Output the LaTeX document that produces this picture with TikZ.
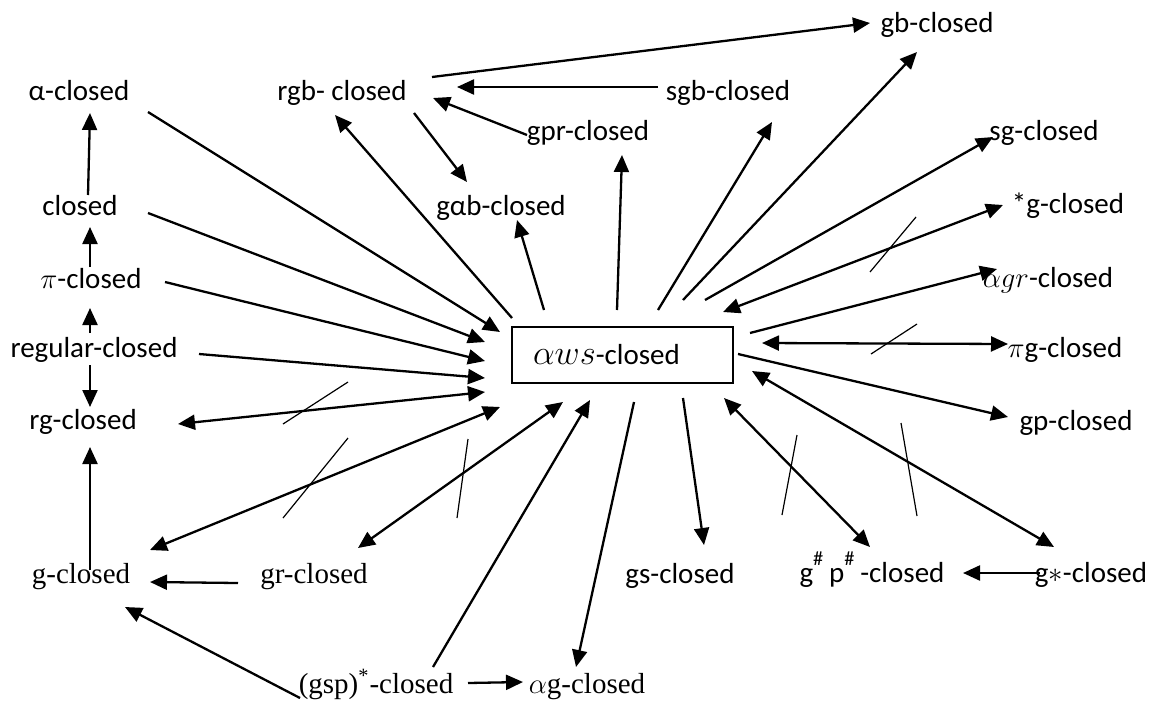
\documentclass[tikz,border=0pt]{standalone}
\usepackage{fontspec}
\setmainfont{Carlito}
\newfontfamily\tms{Liberation Serif}
\usetikzlibrary{arrows.meta}
\begin{document}
\begin{tikzpicture}[x=0.5pt,y=-0.5pt,
 font=\fontsize{14.5}{17}\selectfont,
 lab/.style={anchor=base, inner sep=0pt},
 tlab/.style={lab, font=\fontsize{14.5}{17}\selectfont\tms},
 arr/.style={line width=1.15pt, -{Triangle[length=8.5pt,width=7.5pt]}},
 darr/.style={line width=1.15pt, {Triangle[length=8.5pt,width=7.5pt]}-{Triangle[length=8.5pt,width=7.5pt]}},
 strike/.style={line width=0.6pt}]
\useasboundingbox (0,0) rectangle (1150,702);
% nodes
\node[lab] (alpha) at (79,100) {α-closed};
\node[lab] (rgb) at (342,100) {rgb- closed};
\node[lab] (sgb) at (728,100) {sgb-closed};
\node[lab] (gb) at (937,32) {gb-closed};
\node[lab] (gpr) at (588,140) {gpr-closed};
\node[lab] (sg) at (1044,140) {sg-closed};
\node[lab] (closed) at (80,215) {closed};
\node[lab] (gab) at (501,215) {gαb-closed};
\node[lab] (sgx) at (1068,213) {*g-closed};
\node[lab] (pi) at (91,288) {$\pi$-closed};
\node[lab] (agr) at (1048,287) {$\alpha gr$-closed};
\node[lab] (pig) at (1065,357) {$\pi$g-closed};
\node[lab] (reg) at (94,357) {regular-closed};
\node[lab] (rg) at (83,429) {rg-closed};
\node[lab] (gp) at (1076,430) {gp-closed};
\node[tlab] (g) at (81,583) {g-closed};
\node[tlab] (gr) at (314,583) {gr-closed};
\node[lab] (gs) at (680,583) {gs-closed};
\node[lab] (gpp) at (872,582) {g\raisebox{3pt}{\textsuperscript{\#}}\,p\raisebox{3pt}{\textsuperscript{\#}}\,-closed};
\node[lab] (gst) at (1091,582) {g$\ast$-closed};
\node[tlab] (gsp) at (376,693) {(gsp)\textsuperscript{*}-closed};
\node[tlab] (ag) at (587,693) {$\alpha$g-closed};
\node[draw, line width=0.8pt, minimum width=110.5pt, minimum height=28pt,
      inner xsep=10.5pt, inner ysep=0pt, text width=89.5pt, align=left]
      (aws) at (622.5,355) {\raisebox{-3pt}{{\fontsize{17.5}{20}\selectfont$\alpha ws$}-closed}};
% connector end points
\coordinate (a1) at (148,112);  \coordinate (b1) at (500,332);
\coordinate (a2) at (148,213);  \coordinate (b2) at (485,342);
\coordinate (a3) at (165,282);  \coordinate (b3) at (485,361);
\coordinate (a4) at (199,354);  \coordinate (b4) at (485,378);
\coordinate (a5) at (178,424);  \coordinate (b5) at (485,392);
\coordinate (a6) at (150,550);  \coordinate (b6) at (500,407);
\coordinate (a7) at (88,195);   \coordinate (b7) at (90,113);
\coordinate (a8) at (90,267);   \coordinate (b8) at (90,227);
\coordinate (a9) at (90,333);   \coordinate (b9) at (90,308);
\coordinate (a10) at (90,365);  \coordinate (b10) at (90,407);
\coordinate (a11) at (90,570);  \coordinate (b11) at (90,447);
\coordinate (a12) at (238,583); \coordinate (b12) at (150,582);
\coordinate (a13) at (300,698); \coordinate (b13) at (125,607);
\coordinate (a14) at (468,683); \coordinate (b14) at (523,682);
\coordinate (a15) at (433,667); \coordinate (b15) at (590,400);
\coordinate (a16) at (634,402); \coordinate (b16) at (576,667);
\coordinate (a17) at (358,548); \coordinate (b17) at (563,402);
\coordinate (a18) at (683,398); \coordinate (b18) at (704,545);
\coordinate (a19) at (870,547); \coordinate (b19) at (724,398);
\coordinate (a20) at (1054,547);\coordinate (b20) at (752,371);
\coordinate (a21) at (1040,573);\coordinate (b21) at (963,573);
\coordinate (a22) at (738,354); \coordinate (b22) at (1008,417);
\coordinate (a23) at (762,343); \coordinate (b23) at (1008,344);
\coordinate (a24) at (750,333); \coordinate (b24) at (997,269);
\coordinate (a25) at (1003,205);\coordinate (b25) at (723,312);
\coordinate (a26) at (705,300); \coordinate (b26) at (993,137);
\coordinate (a27) at (683,300); \coordinate (b27) at (917,52);
\coordinate (a28) at (658,310); \coordinate (b28) at (772,122);
\coordinate (a29) at (617,310); \coordinate (b29) at (622,155);
\coordinate (a30) at (544,310); \coordinate (b30) at (517,220);
\coordinate (a31) at (512,318); \coordinate (b31) at (335,115);
\coordinate (a32) at (414,113); \coordinate (b32) at (467,182);
\coordinate (a33) at (658,87);  \coordinate (b33) at (457,87);
\coordinate (a34) at (527,135); \coordinate (b34) at (433,98);
\coordinate (a35) at (432,77);  \coordinate (b35) at (870,23);
% connectors
\foreach \i in {1,2,3,4,7,8,9,10,11,12,13,14,15,16,18,21,22,24,26,27,28,29,30,31,32,33,34,35}
  {\draw[arr] (a\i) -- (b\i);}
\foreach \i in {5,6,17,19,20,23,25}
  {\draw[darr] (a\i) -- (b\i);}
% strike marks
\draw[strike] (283,424) -- (348,382);
\draw[strike] (283,518) -- (348,438);
\draw[strike] (457,518) -- (468,439);
\draw[strike] (782,515) -- (797,435);
\draw[strike] (901,423) -- (917,516);
\draw[strike] (871,354) -- (917,324);
\draw[strike] (870,272) -- (916,217);
\end{tikzpicture}
\end{document}
